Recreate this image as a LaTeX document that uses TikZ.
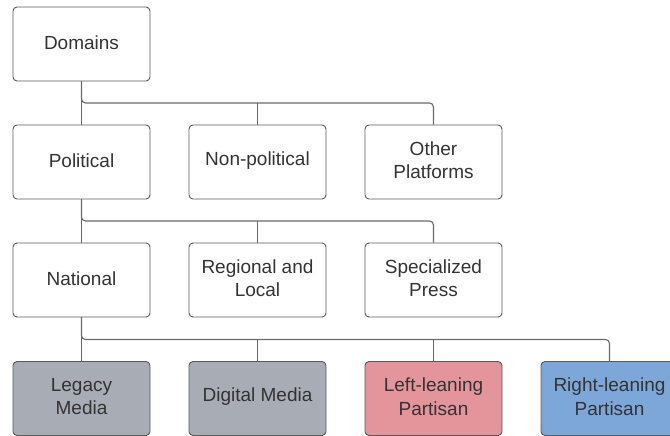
\documentclass[tikz,border=0pt]{standalone}
\usepackage{fontspec}
\setmainfont{Liberation Sans}
\definecolor{boxline}{HTML}{5A5A5A}
\definecolor{conn}{HTML}{6A6A6A}
\definecolor{txt}{HTML}{333333}
\definecolor{greyfill}{HTML}{A8ACB5}
\definecolor{redfill}{HTML}{E3959B}
\definecolor{bluefill}{HTML}{7DA7D9}
\begin{document}
\begin{tikzpicture}[x=1pt,y=-1pt,
  box/.style={draw=boxline, line width=0.9pt, rounded corners=4pt, fill=white,
    minimum width=137pt, minimum height=74pt, inner sep=0pt},
  lbl/.style={inner sep=0pt, align=center, text=txt,
    font=\fontsize{19}{23.5}\selectfont},
  conn/.style={draw=conn, line width=1.1pt, rounded corners=4pt}]
\useasboundingbox (0,0) rectangle (670,436);
\clip (0,0) rectangle (670,436);
% row 1
\node[box] (dom) at (81.5,44) {};
% row 2
\node[box] (pol) at (81.5,162) {};
\node[box] (non) at (257.5,162) {};
\node[box] (oth) at (433.5,162) {};
% row 3
\node[box] (nat) at (81.5,280) {};
\node[box] (reg) at (257.5,280) {};
\node[box] (spe) at (433.5,280) {};
% row 4
\node[box, fill=greyfill] (leg) at (81.5,398.5) {};
\node[box, fill=greyfill] (dig) at (257.5,398.5) {};
\node[box, fill=redfill] (lef) at (433.5,398.5) {};
\node[box, fill=bluefill] (rig) at (609.5,398.5) {};
% labels
\node[lbl] (domT) at ([yshift=1.5pt]dom.center) {Domains};
\node[lbl] (polT) at ([yshift=1.5pt]pol.center) {Political};
\node[lbl] (nonT) at ([yshift=1.5pt]non.center) {Non-political};
\node[lbl] (othT) at ([yshift=2pt]oth.center) {Other\\Platforms};
\node[lbl] (natT) at ([yshift=1.5pt]nat.center) {National};
\node[lbl] (regT) at ([yshift=2pt]reg.center) {Regional and\\Local};
\node[lbl] (speT) at ([yshift=2pt]spe.center) {Specialized\\Press};
\node[lbl] (legT) at ([yshift=2pt]leg.center) {Legacy\\Media};
\node[lbl] (digT) at ([yshift=1.5pt]dig.center) {Digital Media};
\node[lbl] (lefT) at ([yshift=2pt]lef.center) {Left-leaning\\Partisan};
\node[lbl] (rigT) at ([yshift=2pt]rig.center) {Right-leaning\\Partisan};
% buses
\coordinate (b1) at (0,103);
\coordinate (b2) at (0,221);
\coordinate (b3) at (0,339.5);
% connectors level 1
\draw[conn] (dom.south) -- (pol.north);
\draw[conn] (dom.south) |- (oth.north |- b1) -- (oth.north);
\draw[conn] (non.north) -- (non.north |- b1);
% level 2
\draw[conn] (pol.south) -- (nat.north);
\draw[conn] (pol.south) |- (spe.north |- b2) -- (spe.north);
\draw[conn] (reg.north) -- (reg.north |- b2);
% level 3
\draw[conn] (nat.south) -- (leg.north);
\draw[conn] (nat.south) |- (rig.north |- b3) -- (rig.north);
\draw[conn] (dig.north) -- (dig.north |- b3);
\draw[conn] (lef.north) -- (lef.north |- b3);
\end{tikzpicture}
\end{document}
